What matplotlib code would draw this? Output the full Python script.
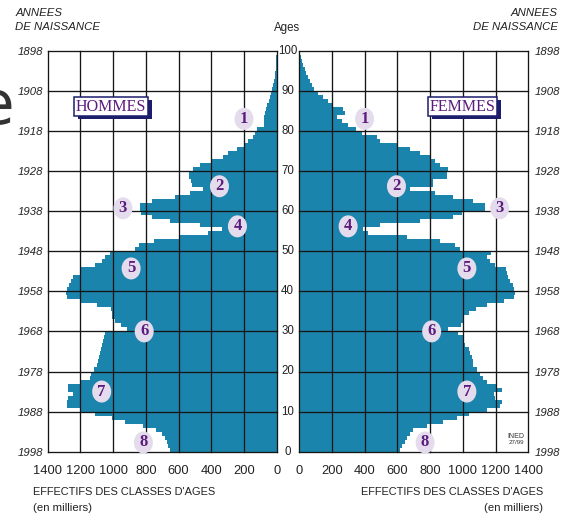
import matplotlib
matplotlib.use("Agg")
import matplotlib.pyplot as plt
from matplotlib.patches import Ellipse, Rectangle
from matplotlib.transforms import blended_transform_factory

# ---------------- data (thousands, one value per age 0..99) ----------------
ages = list(range(0, 100))
hommes = [652, 662, 672, 685, 700, 735, 820, 930, 1008, 1110,
          1202, 1284, 1284, 1274, 1243, 1274, 1274, 1202, 1140, 1135,
          1120, 1100, 1095, 1085, 1080, 1075, 1070, 1060, 1055, 1050,
          915, 950, 990, 1004, 1004, 1010, 1100, 1200, 1285, 1290,
          1280, 1270, 1255, 1244, 1204, 1194, 1112, 1071, 1050, 1020,
          867, 840, 750, 600, 420, 336, 469, 650, 760, 828,
          835, 835, 760, 620, 530, 452, 520, 525, 535, 538,
          510, 469, 398, 330, 295, 242, 198, 175, 145, 135,
          118, 78, 76, 76, 74, 66, 58, 50, 42, 34,
          28, 21, 16, 12, 9, 6, 4, 3, 2, 1]
femmes = [616, 627, 647, 660, 678, 698, 780, 880, 963, 1040,
          1150, 1230, 1239, 1198, 1190, 1239, 1200, 1150, 1125, 1106,
          1086, 1065, 1065, 1055, 1045, 1035, 1014, 1010, 1004, 973,
          912, 990, 1000, 1010, 1040, 1080, 1150, 1250, 1315, 1318,
          1310, 1305, 1290, 1275, 1268, 1265, 1195, 1165, 1150, 1170,
          983, 952, 861, 657, 423, 393, 494, 739, 942, 993,
          1135, 1135, 1062, 942, 830, 678, 820, 820, 902, 902,
          912, 861, 830, 800, 739, 678, 596, 494, 474, 383,
          350, 300, 265, 235, 280, 270, 210, 179, 149, 118,
          92, 78, 65, 55, 45, 35, 26, 18, 10, 5]
x_ticks = [0, 200, 400, 600, 800, 1000, 1200, 1400]
age_ticks = [0, 10, 20, 30, 40, 50, 60, 70, 80, 90, 100]
birth_years = ['1998', '1988', '1978', '1968', '1958', '1948',
               '1938', '1928', '1918', '1908', '1898']
# circled annotation numbers: (label, value, age) per side
notes_h = [('1', 200, 83.0), ('2', 350, 66.2), ('3', 940, 60.7), ('4', 240, 56.2),
           ('5', 890, 45.7), ('6', 810, 30.0), ('7', 1070, 15.0), ('8', 815, 2.3)]
notes_f = [('1', 400, 83.0), ('2', 595, 66.2), ('3', 1225, 60.7), ('4', 300, 56.2),
           ('5', 1025, 45.7), ('6', 810, 30.0), ('7', 1025, 15.0), ('8', 770, 2.3)]

BAR = '#1b84ad'
GRID = '#151515'
PURPLE = '#5b1c7d'
NAVY = '#1d1d6b'
LAV = '#e4dcec'
SANS = ['Liberation Sans', 'DejaVu Sans']
SERIF = ['Liberation Serif', 'DejaVu Serif']
TXT = '#222222'

W, H = 562, 514
fig = plt.figure(figsize=(W / 100, H / 100), dpi=100)
fig.patch.set_facecolor('white')


def fx(x):
    return x / W


def fy(y):
    return 1 - y / H


top, bot = 50.7, 451.7
axL = fig.add_axes([fx(47.7), fy(bot), (276.7 - 47.7) / W, (bot - top) / H])
axR = fig.add_axes([fx(299.0), fy(bot), (528.3 - 299.0) / W, (bot - top) / H])

for ax, vals in ((axL, hommes), (axR, femmes)):
    ax.barh(ages, vals, height=1.0, align='edge', color=BAR, linewidth=0, zorder=1)
    ax.set_ylim(0, 100)
    for v in x_ticks:
        ax.axvline(v, color=GRID, lw=0.95, zorder=3, clip_on=False)
    for a in age_ticks:
        ax.axhline(a, color=GRID, lw=0.95, zorder=3, clip_on=False)
    for s in ax.spines.values():
        s.set_visible(False)
    ax.set_xticks(x_ticks)
    ax.set_xticklabels([str(v) for v in x_ticks], family=SANS, fontsize=9.3, color=TXT)
    ax.tick_params(axis='x', length=0, pad=9.5)
    ax.set_yticks(age_ticks)
    ax.set_yticklabels(birth_years, family=SANS, style='italic', fontsize=8.2, color=TXT)
    ax.tick_params(axis='y', length=0, pad=3.5)

axL.set_xlim(1400, 0)
axR.set_xlim(0, 1400)
axR.yaxis.tick_right()
axR.tick_params(axis='y', length=0, pad=4.5)

# age labels between the panels
tr = blended_transform_factory(fig.transFigure, axR.transData)
for a in age_ticks:
    fig.text(fx(287.5), a, str(a), transform=tr, ha='center', va='center',
             family=SANS, fontsize=8.3, color=TXT)
fig.text(fx(287), fy(28), 'Ages', ha='center', va='center', family=SANS, fontsize=8.3, color=TXT)

# headers
fig.text(fx(16), fy(13), 'ANNEES', ha='left', va='center', family=SANS, style='italic', fontsize=8.2, color=TXT)
fig.text(fx(15), fy(27), 'DE NAISSANCE', ha='left', va='center', family=SANS, style='italic', fontsize=8.2, color=TXT)
fig.text(fx(558), fy(13), 'ANNEES', ha='right', va='center', family=SANS, style='italic', fontsize=8.2, color=TXT)
fig.text(fx(558), fy(27), 'DE NAISSANCE', ha='right', va='center', family=SANS, style='italic', fontsize=8.2, color=TXT)

# bottom titles
fig.text(fx(33), fy(492), "EFFECTIFS DES CLASSES D'AGES", ha='left', va='center', family=SANS, fontsize=7.9, color=TXT)
fig.text(fx(33), fy(508), "(en milliers)", ha='left', va='center', family=SANS, fontsize=8.2, color=TXT)
fig.text(fx(543), fy(492), "EFFECTIFS DES CLASSES D'AGES", ha='right', va='center', family=SANS, fontsize=7.9, color=TXT)
fig.text(fx(543), fy(508), "(en milliers)", ha='right', va='center', family=SANS, fontsize=8.2, color=TXT)

# INED mark
fig.text(fx(516), fy(436), 'INED', ha='center', va='center', family=SANS, fontsize=5, color='#333')
fig.text(fx(516), fy(443), '27/99', ha='center', va='center', family=SANS, fontsize=4.5, color='#333')

# stray big "e" at left edge
fig.text(fx(14), fy(124), 'e', ha='right', va='baseline', family='DejaVu Sans', fontsize=44, color='#333')


# HOMMES / FEMMES boxes
def label_box(x0, y0, x1, y1, text):
    fig.patches.append(Rectangle((fx(x0 + 4), fy(y1 + 3)), (x1 - x0) / W, (y1 - y0) / H,
                                 transform=fig.transFigure, facecolor=NAVY, edgecolor='none', zorder=5))
    fig.patches.append(Rectangle((fx(x0), fy(y1)), (x1 - x0) / W, (y1 - y0) / H,
                                 transform=fig.transFigure, facecolor='white', edgecolor=NAVY,
                                 lw=1.1, zorder=6))
    fig.text(fx((x0 + x1) / 2), fy((y0 + y1) / 2 + 0.5), text, ha='center', va='center',
             family=SERIF, fontsize=11.5, color=PURPLE, zorder=7)


label_box(74, 97, 148, 116, 'HOMMES')
label_box(428, 97, 497, 116, 'FEMMES')


# circled numbers
def circles(ax, notes):
    for lab, v, a in notes:
        p0 = ax.transData.transform((v, a))
        p1 = ax.transData.inverted().transform((p0[0] + 19, p0[1] + 22))
        e = Ellipse((v, a), width=abs(p1[0] - v), height=abs(p1[1] - a),
                    facecolor=LAV, edgecolor='none', zorder=8, clip_on=False)
        ax.add_patch(e)
        ax.text(v, a, lab, ha='center', va='center', family=SERIF,
                fontweight='bold', fontsize=12, color=PURPLE, zorder=9, clip_on=False)


circles(axL, notes_h)
circles(axR, notes_f)

fig.savefig('out.png', dpi=100, facecolor='white')
